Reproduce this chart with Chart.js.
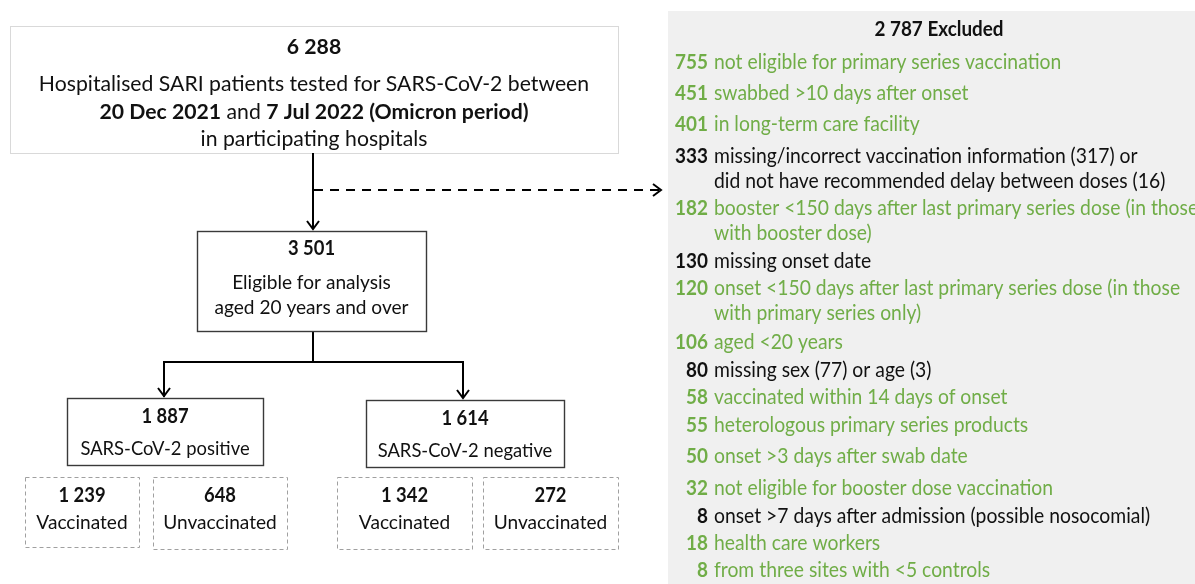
<!DOCTYPE html>
<html>
<head>
<meta charset="utf-8">
<script src="https://cdn.jsdelivr.net/npm/chart.js@4.4.1/dist/chart.umd.min.js"></script>
<style>
  html, body { margin: 0; padding: 0; background: #fff; overflow: hidden; }
</style>
</head>
<body>
<canvas id="flow" width="1195" height="584"></canvas>
<script>
// ---- flowchart counts ----
const totalTested = 6288;
const eligibleCount = 3501;
const groupCounts = [1887, 1614];
const groupLabels = ['SARS-CoV-2 positive', 'SARS-CoV-2 negative'];
const vaccCounts = [1239, 648, 1342, 272];
const vaccLabels = ['Vaccinated', 'Unvaccinated', 'Vaccinated', 'Unvaccinated'];
const excludedTotal = 2787;
const excludedCounts = [755, 451, 401, 333, 182, 130, 120, 106, 80, 58, 55, 50, 32, 8, 18, 8];
const excludedReasons = [
  ['not eligible for primary series vaccination'],
  ['swabbed >10 days after onset'],
  ['in long-term care facility'],
  ['missing/incorrect vaccination information (317) or', 'did not have recommended delay between doses (16)'],
  ['booster <150 days after last primary series dose (in those', 'with booster dose)'],
  ['missing onset date'],
  ['onset <150 days after last primary series dose (in those', 'with primary series only)'],
  ['aged <20 years'],
  ['missing sex (77) or age (3)'],
  ['vaccinated within 14 days of onset'],
  ['heterologous primary series products'],
  ['onset >3 days after swab date'],
  ['not eligible for booster dose vaccination'],
  ['onset >7 days after admission (possible nosocomial)'],
  ['health care workers'],
  ['from three sites with <5 controls']
];
const excludedGreen = [true, true, true, false, true, false, true, true, false, true, true, true, true, false, true, true];

// ---- layout, in pixels of the 1195 x 584 frame ----
const topBox = [10, 618, 26, 153];
const eligBox = [197, 426, 231, 331];
const groupBoxes = [[67, 263, 398, 465], [366, 564, 400, 467]];
const vaccBoxes = [[25, 139, 477, 547], [153, 287, 477, 549], [337, 472, 477, 549], [483, 618, 477, 549]];
const excludedRowY = [62, 93, 124, 156, 208, 261, 288, 342, 370, 397, 425, 456, 488, 516, 543, 570];
const panel = [668, 1195, 11, 584];

const GREEN = '#70ad47';
const INK = '#111';
const FAMILY = 'Lato, "Noto Sans", sans-serif';

const fmt = n => String(n).replace(/\B(?=(\d{3})+(?!\d))/g, ' ');

function font(size, bold) {
  return (bold ? 'bold ' : '') + size + 'px ' + FAMILY;
}

// segments: [[text, bold], ...]; align 'center' | 'left' | 'right'
// squeeze narrows/widens the fallback font towards the original Calibri widths
function rich(ctx, segs, xPos, yPos, size, color, align, squeeze) {
  const s = squeeze || 0.92;
  let total = 0;
  const widths = segs.map(([t, b]) => {
    ctx.font = font(size, b);
    const w = ctx.measureText(t).width * s;
    total += w;
    return w;
  });
  let cx = align === 'center' ? xPos - total / 2 : align === 'right' ? xPos - total : xPos;
  segs.forEach(([t, b], i) => {
    ctx.save();
    ctx.font = font(size, b);
    ctx.fillStyle = color;
    ctx.textBaseline = 'middle';
    ctx.textAlign = 'left';
    ctx.translate(cx, yPos);
    ctx.scale(s, 1);
    ctx.fillText(t, 0, 0);
    ctx.restore();
    cx += widths[i];
  });
}

const flowPlugin = {
  id: 'flow',
  afterDraw(chart) {
    const { ctx, scales: { x, y } } = chart;
    const px = v => x.getPixelForValue(v);
    const py = v => y.getPixelForValue(v);

    const rect = (b, stroke, lw, dash, fill) => {
      ctx.save();
      const X = px(b[0]), Y = py(b[2]);
      const w = px(b[1]) - X, h = py(b[3]) - Y;
      if (fill) { ctx.fillStyle = fill; ctx.fillRect(X, Y, w, h); }
      if (stroke) {
        ctx.strokeStyle = stroke;
        ctx.lineWidth = lw;
        ctx.setLineDash(dash || []);
        ctx.strokeRect(X + 0.5, Y + 0.5, w, h);
      }
      ctx.restore();
    };
    const line = (pts, dash) => {
      ctx.save();
      ctx.strokeStyle = '#000';
      ctx.lineWidth = 2;
      ctx.setLineDash(dash || []);
      ctx.beginPath();
      pts.forEach(([a, b], i) => i ? ctx.lineTo(px(a), py(b)) : ctx.moveTo(px(a), py(b)));
      ctx.stroke();
      ctx.restore();
    };
    const head = (a, b, dir) => {
      const X = px(a), Y = py(b);
      ctx.save();
      ctx.strokeStyle = '#000';
      ctx.lineWidth = 2;
      ctx.beginPath();
      if (dir === 'down') {
        ctx.moveTo(X - 6, Y - 9); ctx.lineTo(X, Y - 1); ctx.lineTo(X + 6, Y - 9);
      } else {
        ctx.moveTo(X - 9, Y - 6); ctx.lineTo(X - 1, Y); ctx.lineTo(X - 9, Y + 6);
      }
      ctx.stroke();
      ctx.restore();
    };
    const mid = b => (px(b[0]) + px(b[1])) / 2;

    // excluded panel
    rect(panel, null, 0, null, '#f0f0f0');
    rich(ctx, [[fmt(excludedTotal) + ' Excluded', true]], px(939), py(29), 20.5, INK, 'center');
    excludedCounts.forEach((n, i) => {
      const col = excludedGreen[i] ? GREEN : INK;
      const yy = py(excludedRowY[i]);
      rich(ctx, [[fmt(n), true]], px(708), yy, 21, col, 'right', 0.9);
      excludedReasons[i].forEach((t, k) => {
        rich(ctx, [[t, false]], px(714), yy + k * 25, 21, col, 'left', 0.92);
      });
    });

    // top box
    rect(topBox, '#d9d9d9', 1);
    const tc = mid(topBox);
    rich(ctx, [[fmt(totalTested), true]], tc, py(47), 21, INK, 'center', 1.01);
    rich(ctx, [['Hospitalised SARI patients tested for SARS-CoV-2 between', false]], tc, py(84), 21, INK, 'center', 1.01);
    rich(ctx, [['20 Dec 2021', true], [' and ', false], ['7 Jul 2022 (Omicron period)', true]], tc, py(112), 21, INK, 'center', 1.01);
    rich(ctx, [['in participating hospitals', false]], tc, py(139), 21, INK, 'center', 1.01);

    // connectors
    line([[313, 153], [313, 229]]);
    head(313, 230, 'down');
    line([[314, 190], [660, 190]], [9, 7]);
    head(662, 190, 'right');
    line([[313, 331], [313, 362]]);
    line([[164, 397], [164, 362], [463, 362], [463, 398]]);
    head(164, 397, 'down');
    head(463, 399, 'down');

    // eligible box
    rect(eligBox, '#3a3a3a', 1.4);
    const ec = mid(eligBox);
    rich(ctx, [[fmt(eligibleCount), true]], ec, py(249), 20, INK, 'center');
    rich(ctx, [['Eligible for analysis', false]], ec, py(283), 20, INK, 'center', 0.955);
    rich(ctx, [['aged 20 years and over', false]], ec, py(308), 20, INK, 'center', 0.955);

    // test result boxes
    groupBoxes.forEach((b, i) => {
      rect(b, '#3a3a3a', 1.4);
      rich(ctx, [[fmt(groupCounts[i]), true]], mid(b), py(b[2] + 19), 20, INK, 'center');
      rich(ctx, [[groupLabels[i], false]], mid(b), py(b[2] + 51), 20, INK, 'center');
    });

    // vaccination status boxes
    vaccBoxes.forEach((b, i) => {
      rect(b, '#a0a0a0', 1, [4, 3]);
      rich(ctx, [[fmt(vaccCounts[i]), true]], mid(b), py(496), 20, INK, 'center');
      rich(ctx, [[vaccLabels[i], false]], mid(b), py(523), 20, INK, 'center', 0.955);
    });
  }
};

new Chart(document.getElementById('flow'), {
  type: 'scatter',
  data: { datasets: [{ data: [], pointRadius: 0 }] },
  options: {
    responsive: false,
    animation: false,
    devicePixelRatio: 1,
    layout: { padding: 0 },
    plugins: { legend: { display: false }, tooltip: { enabled: false } },
    scales: {
      x: { type: 'linear', min: 0, max: 1195, display: false },
      y: { type: 'linear', min: 0, max: 584, reverse: true, display: false }
    }
  },
  plugins: [flowPlugin]
});
</script>
</body>
</html>
